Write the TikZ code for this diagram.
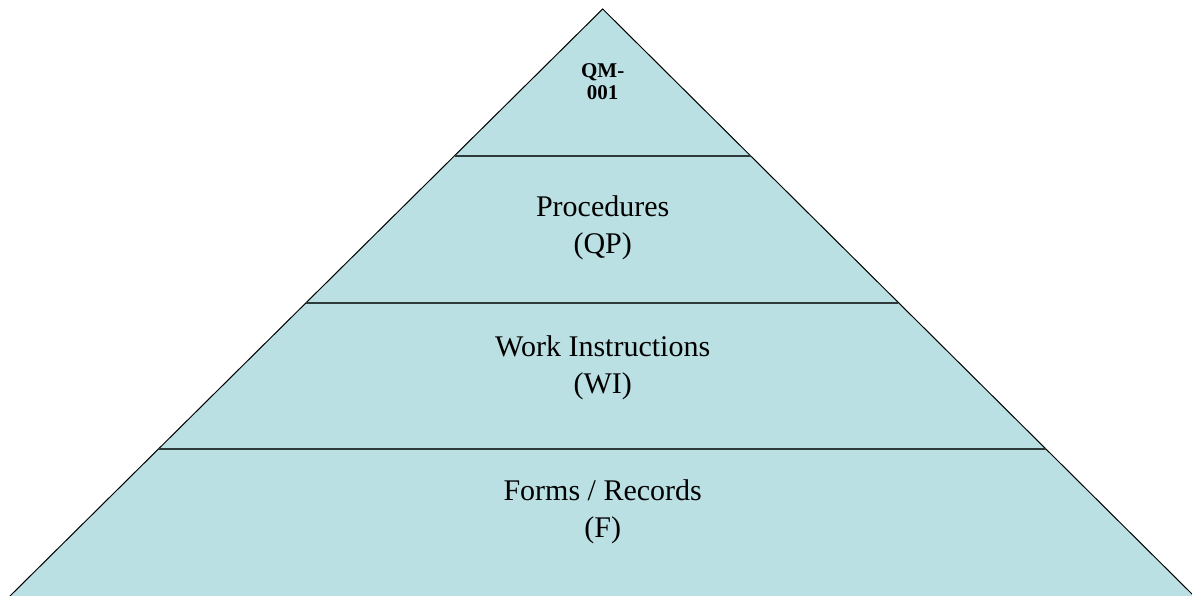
\documentclass[tikz,border=0pt]{standalone}
\usepackage{fontspec}
\setmainfont{Liberation Serif}
\usetikzlibrary{calc,positioning}
\definecolor{pyrfill}{HTML}{BBE0E3}
\definecolor{bandline}{HTML}{2F3B3B}

\begin{document}
\begin{tikzpicture}[x=1pt, y=-1pt,
    lvl/.style={align=center, inner sep=0pt, font=\fontsize{30}{37}\selectfont},
    toplvl/.style={align=center, inner sep=0pt, font=\fontsize{21}{22}\selectfont\bfseries}]
    \useasboundingbox (0,0) rectangle (1192,596);

    % Pyramid (base runs just below the page edge)
    \coordinate (apex) at (602.7,9);
    \coordinate (bl) at (10,596);
    \coordinate (br) at (1194,596);
    \draw[fill=pyrfill, line width=1pt] (apex) -- ($(apex)!1.02!(bl)$) -- ($(apex)!1.02!(br)$) -- cycle;

    % Band lines
    \foreach \t/\n in {0.25/1, 0.5/2, 0.75/3} {
        \coordinate (l\n) at ($(apex)!\t!(bl)$);
        \coordinate (r\n) at ($(apex)!\t!(br)$);
        \draw[bandline, line width=2pt] (l\n) -- (r\n);
    }

    % Labels
    \node[toplvl] (qm) at (602.7,82) {QM-\\001};
    \node[lvl] (qp) at (602.7,228) {Procedures\\(QP)};
    \node[lvl] (wi) at (602.7,368) {Work Instructions\\(WI)};
    \node[lvl] (frm) at (602.7,512) {Forms / Records\\(F)};
\end{tikzpicture}
\end{document}
